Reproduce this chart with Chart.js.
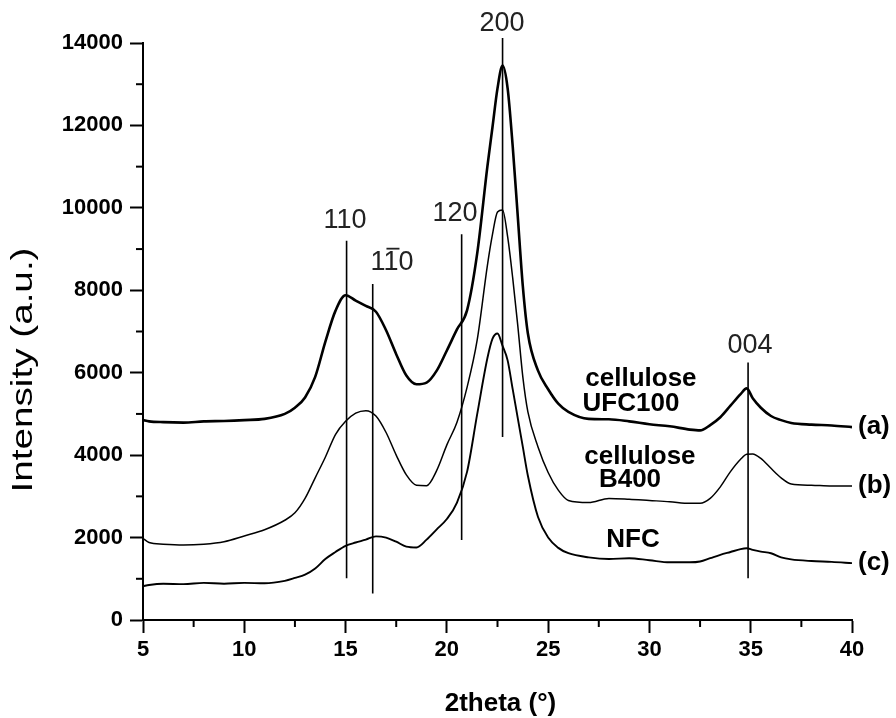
<!DOCTYPE html>
<html>
<head>
<meta charset="utf-8">
<script src="https://cdn.jsdelivr.net/npm/chart.js@4.4.1/dist/chart.umd.min.js"></script>
<style>
  html, body { margin: 0; padding: 0; background: #fff; }
  canvas { display: block; }
</style>
</head>
<body>
<canvas id="xrdChart" width="896" height="718"></canvas>
<script>
// 2theta positions (degrees) where the traces were read
const theta = [5, 5.3, 6, 7, 8, 9, 10, 11, 12,
  12.5, 13, 13.5, 14, 14.5, 15, 15.5, 16, 16.5, 17, 17.5, 18, 18.5, 19, 19.5, 20, 20.5, 21, 21.5, 22,
  22.25, 22.5, 22.75, 23, 23.25, 23.5, 23.75, 24,
  24.5, 25, 25.5, 26,
  27, 28, 29, 30, 31, 32,
  32.5, 33, 33.5, 34, 34.5, 34.8, 35.1, 35.5, 36, 36.5, 37,
  38, 39, 40];

// (a) cellulose UFC100
const ufc100 = [4850, 4820, 4800, 4790, 4820, 4830, 4850, 4880, 5000,
  5150, 5400, 5900, 6750, 7500, 7880, 7750, 7620, 7480, 7030, 6450, 5930, 5720, 5760, 6050, 6540, 7050, 7520, 8900, 11000,
  11950, 12900, 13450, 12900, 11500, 9800, 8100, 6950,
  6050, 5600, 5250, 5050,
  4880, 4870, 4820, 4750, 4700, 4620,
  4600, 4730, 4920, 5200, 5480, 5620, 5380, 5150, 4950, 4850, 4780,
  4740, 4720, 4680];

// (b) cellulose B400
const b400 = [1980, 1880, 1840, 1820, 1840, 1900, 2040, 2190, 2420,
  2600, 2950, 3450, 3950, 4500, 4820, 5020, 5080, 4950, 4550, 4000, 3520, 3270, 3260, 3630, 4250, 4800, 5650, 6800, 8600,
  9350, 9900, 9950, 9300, 8300, 7150, 5900, 5050,
  4200, 3580, 3150, 2900,
  2850, 2950, 2930, 2900, 2870, 2830,
  2830, 2950, 3230, 3600, 3900, 4020, 4030, 3920, 3680, 3450, 3300,
  3270, 3250, 3250];

// (c) NFC
const nfc = [820, 850, 880, 870, 900, 880, 900, 890, 950,
  1020, 1100, 1250, 1480, 1650, 1800, 1880, 1950, 2030, 2000, 1900, 1780, 1760, 1950, 2200, 2450, 2850, 3600, 5000, 6350,
  6820, 6950, 6650, 6300, 5600, 4900, 4200, 3500,
  2500, 2000, 1750, 1620,
  1520, 1480, 1500, 1450, 1400, 1400,
  1420, 1500, 1580, 1650, 1720, 1740, 1700, 1660, 1620, 1520, 1470,
  1430, 1410, 1380];

// reflection markers
const peakNames = ["110", "110", "120", "200", "004"];
const peakTheta = [15.05, 16.34, 20.73, 22.75, 34.87];
const peakTop = [9200, 8150, 9360, 14120, 6250];
const peakBottom = [1010, 645, 1940, 4440, 1010];
const peakLabelTheta = [14.97, 17.29, 20.4, 22.72, 34.96];
const peakLabelY = [9685, 8670, 9855, 14480, 6660];

// sample names written next to the traces
const sampleText = ["cellulose", "UFC100", "cellulose", "B400", "NFC"];
const sampleTheta = [29.58, 29.09, 29.53, 29.04, 29.19];
const sampleY = [5860, 5254, 3947, 3390, 1937];
const seriesTags = ["(a)", "(b)", "(c)"];

const xMinor = [7.5, 12.5, 17.5, 22.5, 27.5, 32.5, 37.5];
const yMinor = [1000, 3000, 5000, 7000, 9000, 11000, 13000];

const series = [ufc100, b400, nfc];
const widths = [2.6, 1.5, 1.9];

const toPoints = vals => vals.map((v, i) => ({ x: theta[i], y: v }));

const datasets = series.map((vals, i) => ({
  data: toPoints(vals),
  borderColor: "#000",
  borderWidth: widths[i],
  pointRadius: 0,
  cubicInterpolationMode: "monotone",
  fill: false,
}));

peakTheta.forEach((t, i) => {
  datasets.push({
    data: [{ x: t, y: peakBottom[i] }, { x: t, y: peakTop[i] }],
    borderColor: "#000",
    borderWidth: 1.6,
    pointRadius: 0,
    clip: false,
  });
});

const FONT = "'Liberation Sans', Arial, sans-serif";
Chart.defaults.font.family = FONT;
Chart.defaults.color = "#000";

const decorations = {
  id: "decorations",
  afterDraw(chart) {
    const { ctx, chartArea: area, scales: { x, y } } = chart;
    ctx.save();
    ctx.strokeStyle = "#000";
    ctx.lineWidth = 2;
    // minor ticks
    xMinor.forEach(v => {
      const px = x.getPixelForValue(v);
      ctx.beginPath();
      ctx.moveTo(px, area.bottom);
      ctx.lineTo(px, area.bottom + 7);
      ctx.stroke();
    });
    yMinor.forEach(v => {
      const py = y.getPixelForValue(v);
      ctx.beginPath();
      ctx.moveTo(area.left, py);
      ctx.lineTo(area.left - 7, py);
      ctx.stroke();
    });

    // reflection labels
    ctx.fillStyle = "#222";
    ctx.font = "27px " + FONT;
    ctx.textAlign = "center";
    ctx.textBaseline = "middle";
    peakNames.forEach((s, i) => {
      const px = x.getPixelForValue(peakLabelTheta[i]);
      const py = y.getPixelForValue(peakLabelY[i]);
      ctx.fillText(s, px, py);
      if (i === 1) {
        // bar over the middle digit: 1-10
        const w = ctx.measureText(s).width;
        const w1 = ctx.measureText("1").width;
        const x0 = px - w / 2 + w1;
        ctx.lineWidth = 1.8;
        ctx.strokeStyle = "#222";
        ctx.beginPath();
        ctx.moveTo(x0 + 1, py - 14);
        ctx.lineTo(x0 + w1 - 1, py - 14);
        ctx.stroke();
      }
    });

    // sample names
    ctx.fillStyle = "#000";
    ctx.font = "bold 26px " + FONT;
    sampleText.forEach((s, i) => {
      ctx.fillText(s, x.getPixelForValue(sampleTheta[i]), y.getPixelForValue(sampleY[i]));
    });

    // (a) (b) (c) at trace ends
    ctx.textAlign = "left";
    series.forEach((vals, i) => {
      ctx.fillText(seriesTags[i], x.getPixelForValue(theta[theta.length - 1]) + 6,
        y.getPixelForValue(vals[vals.length - 1]));
    });

    // axis titles
    ctx.textAlign = "center";
    ctx.font = "bold 26px " + FONT;
    ctx.fillText("2theta (°)", (area.left + area.right) / 2 + 3, 704);

    ctx.font = "30px " + FONT;
    const title = "Intensity (a.u.)";
    const tw = ctx.measureText(title).width;
    ctx.translate(24, 370);
    ctx.rotate(-Math.PI / 2);
    ctx.scale(245 / tw, 1);
    ctx.fillText(title, 0, 0);
    ctx.restore();
  },
};

new Chart(document.getElementById("xrdChart"), {
  type: "line",
  data: { datasets },
  options: {
    responsive: false,
    animation: false,
    events: [],
    layout: { padding: { left: 0, right: 44, top: 43, bottom: 0 } },
    plugins: { legend: { display: false }, tooltip: { enabled: false } },
    scales: {
      x: {
        type: "linear",
        min: 5,
        max: 40,
        afterFit: s => { s.height = 98; },
        ticks: { stepSize: 5, padding: 4, color: "#000", font: { size: 22, weight: "bold" } },
        grid: { drawOnChartArea: false, tickLength: 13, tickColor: "#000", tickWidth: 2 },
        border: { color: "#000", width: 2 },
      },
      y: {
        min: 0,
        max: 14000,
        afterFit: s => { s.width = 143; },
        ticks: {
          stepSize: 2000,
          padding: 7,
          color: "#000",
          font: { size: 22, weight: "bold" },
          callback: v => String(v),
        },
        grid: { drawOnChartArea: false, tickLength: 13, tickColor: "#000", tickWidth: 2 },
        border: { color: "#000", width: 2 },
      },
    },
  },
  plugins: [decorations],
});
</script>
</body>
</html>
